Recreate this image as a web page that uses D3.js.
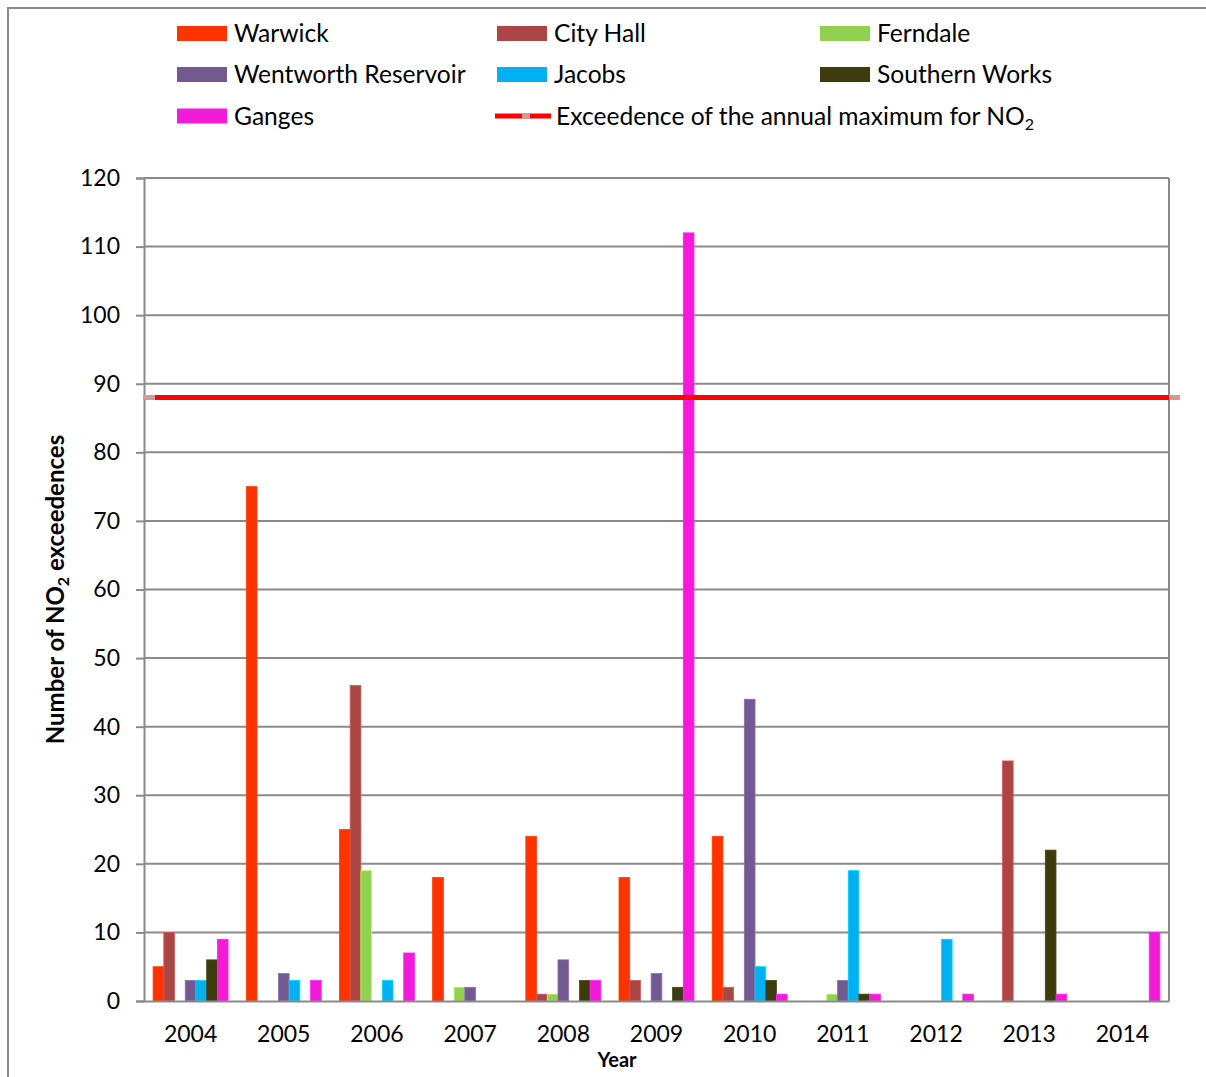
<!DOCTYPE html>
<html>
<head>
<meta charset="utf-8">
<script src="https://cdn.jsdelivr.net/npm/d3@7"></script>
<style>
  html, body { margin: 0; padding: 0; background: #fff; }
  svg { display: block; font-family: Lato, "Open Sans", sans-serif; }
</style>
</head>
<body>
<svg id="chart" width="1206" height="1077"></svg>
<script>
// Annual NO2 exceedences per monitoring site
const years = ["2004","2005","2006","2007","2008","2009","2010","2011","2012","2013","2014"];
const sites = ["Warwick","City Hall","Ferndale","Wentworth Reservoir","Jacobs","Southern Works","Ganges"];
const siteColors = ["#FF3300","#AA4644","#92D050","#72598F","#00B0F0","#3E3B0F","#F21CD8"];

const warwick       = [5, 75, 25, 18, 24, 18, 24, 0, 0, 0, 0];
const cityHall      = [10, 0, 46, 0, 1, 3, 2, 0, 0, 35, 0];
const ferndale      = [0, 0, 19, 2, 1, 0, 0, 1, 0, 0, 0];
const wentworth     = [3, 4, 0, 2, 6, 4, 44, 3, 0, 0, 0];
const jacobs        = [3, 3, 3, 0, 0, 0, 5, 19, 9, 0, 0];
const southernWorks = [6, 0, 0, 0, 3, 2, 3, 1, 0, 22, 0];
const ganges        = [9, 3, 7, 0, 3, 112, 1, 1, 1, 1, 10];

const annualMaximum = 88;
const yTicks = [0,10,20,30,40,50,60,70,80,90,100,110,120];

const seriesValues = [warwick, cityHall, ferndale, wentworth, jacobs, southernWorks, ganges];
const rows = [];
years.forEach((yr, i) => sites.forEach((s, j) => rows.push({year: yr, site: s, value: seriesValues[j][i]})));

const svg = d3.select("#chart");
const plot = {left: 144, right: 1169, top: 178, bottom: 1001};

// outer chart frame
svg.append("rect").attr("x", 8).attr("y", 8).attr("width", 1250).attr("height", 1120)
  .attr("fill", "none").attr("stroke", "#8a8a8a").attr("stroke-width", 2);

const x0 = d3.scaleBand().domain(years).range([plot.left, plot.right]).paddingInner(0).paddingOuter(0);
const x1 = d3.scaleBand().domain(sites).range([0, x0.bandwidth()]).paddingInner(0).paddingOuter(0.85);
const y = d3.scaleLinear().domain([0, 120]).range([plot.bottom, plot.top]);
const color = d3.scaleOrdinal().domain(sites).range(siteColors);

// gridlines
svg.append("g").selectAll("line").data(yTicks.slice(1)).join("line")
  .attr("x1", plot.left).attr("x2", plot.right)
  .attr("y1", d => y(d)).attr("y2", d => y(d))
  .attr("stroke", "#8a8a8a").attr("stroke-width", 2);

// right border of plot area
svg.append("line").attr("x1", plot.right).attr("x2", plot.right)
  .attr("y1", plot.top).attr("y2", plot.bottom)
  .attr("stroke", "#8a8a8a").attr("stroke-width", 2);

// bars
svg.append("g").selectAll("rect").data(rows).join("rect")
  .attr("x", d => x0(d.year) + x1(d.site))
  .attr("width", x1.bandwidth())
  .attr("y", d => y(d.value))
  .attr("height", d => y(0) - y(d.value))
  .attr("fill", d => color(d.site))
  .attr("stroke", d => d3.color(color(d.site)).brighter(0.6))
  .attr("stroke-width", d => d.value > 0 ? 0.8 : 0);

// y axis
const yAxis = svg.append("g").attr("transform", `translate(${plot.left},0)`)
  .call(d3.axisLeft(y).tickValues(yTicks).tickSize(8).tickPadding(16));
yAxis.select(".domain").attr("stroke", "#8a8a8a").attr("stroke-width", 2);
yAxis.selectAll(".tick line").attr("stroke", "#8a8a8a").attr("stroke-width", 2);
yAxis.selectAll(".tick text").attr("font-family", "Lato, sans-serif").attr("font-size", 23).attr("fill", "#000");

// x axis
const xAxis = svg.append("g").attr("transform", `translate(0,${plot.bottom})`)
  .call(d3.axisBottom(x0).tickSize(0).tickPadding(25));
xAxis.select(".domain").attr("stroke", "#8a8a8a").attr("stroke-width", 2);
xAxis.selectAll(".tick text").attr("font-family", "Lato, sans-serif").attr("font-size", 23).attr("fill", "#000");

// annual maximum line
const xLine = d3.scaleLinear().domain([0, 1]).range([plot.left, plot.right]);
const cap = 11;
svg.append("path")
  .datum([0, 1])
  .attr("d", d3.line().x(d => xLine(d)).y(() => y(annualMaximum)))
  .attr("stroke", "#FF0000").attr("stroke-width", 5).attr("fill", "none");
[[plot.left - 1, plot.left + cap], [plot.right, plot.right + cap]].forEach(([a, b]) => {
  svg.append("line").attr("x1", a).attr("x2", b)
    .attr("y1", y(annualMaximum)).attr("y2", y(annualMaximum))
    .attr("stroke", "#D99694").attr("stroke-width", 5);
});

// axis titles
const yTitle = svg.append("text")
  .attr("transform", `translate(64,${(plot.top + plot.bottom) / 2 - 0}) rotate(-90)`)
  .attr("text-anchor", "middle").attr("font-weight", "bold").attr("font-size", 24).attr("fill", "#000");
yTitle.append("tspan").text("Number of NO");
yTitle.append("tspan").text("2").attr("font-size", 16).attr("dy", 5);
yTitle.append("tspan").text(" exceedences").attr("dy", -5);

svg.append("text").attr("x", 617).attr("y", 1067).attr("text-anchor", "middle")
  .attr("font-weight", "bold").attr("font-size", 20).attr("fill", "#000").text("Year");

// legend
const legendCols = [177, 497, 820];
const legendRows = [33.5, 74.5, 116];
const legendItems = sites.map((s, i) => ({label: s, color: siteColors[i], col: i % 3, row: Math.floor(i / 3)}));
const lg = svg.append("g").attr("font-size", 24.6);
legendItems.forEach(it => {
  const gx = legendCols[it.col], gy = legendRows[it.row];
  lg.append("rect").attr("x", gx).attr("y", gy - 7.5).attr("width", 50).attr("height", 15).attr("fill", it.color);
  lg.append("text").attr("x", gx + 57).attr("y", gy).attr("dy", "0.36em").attr("fill", "#000").text(it.label);
});
{
  const gx = legendCols[1], gy = legendRows[2];
  lg.append("line").attr("x1", gx - 2).attr("x2", gx + 54).attr("y1", gy).attr("y2", gy)
    .attr("stroke", "#FF0000").attr("stroke-width", 5);
  lg.append("rect").attr("x", gx + 25).attr("y", gy - 3).attr("width", 8).attr("height", 6).attr("fill", "#D99694");
  const t = lg.append("text").attr("x", gx + 59).attr("y", gy).attr("dy", "0.36em").attr("fill", "#000");
  t.append("tspan").text("Exceedence of the annual maximum for NO");
  t.append("tspan").text("2").attr("font-size", 16).attr("dy", 5);
}
</script>
</body>
</html>
